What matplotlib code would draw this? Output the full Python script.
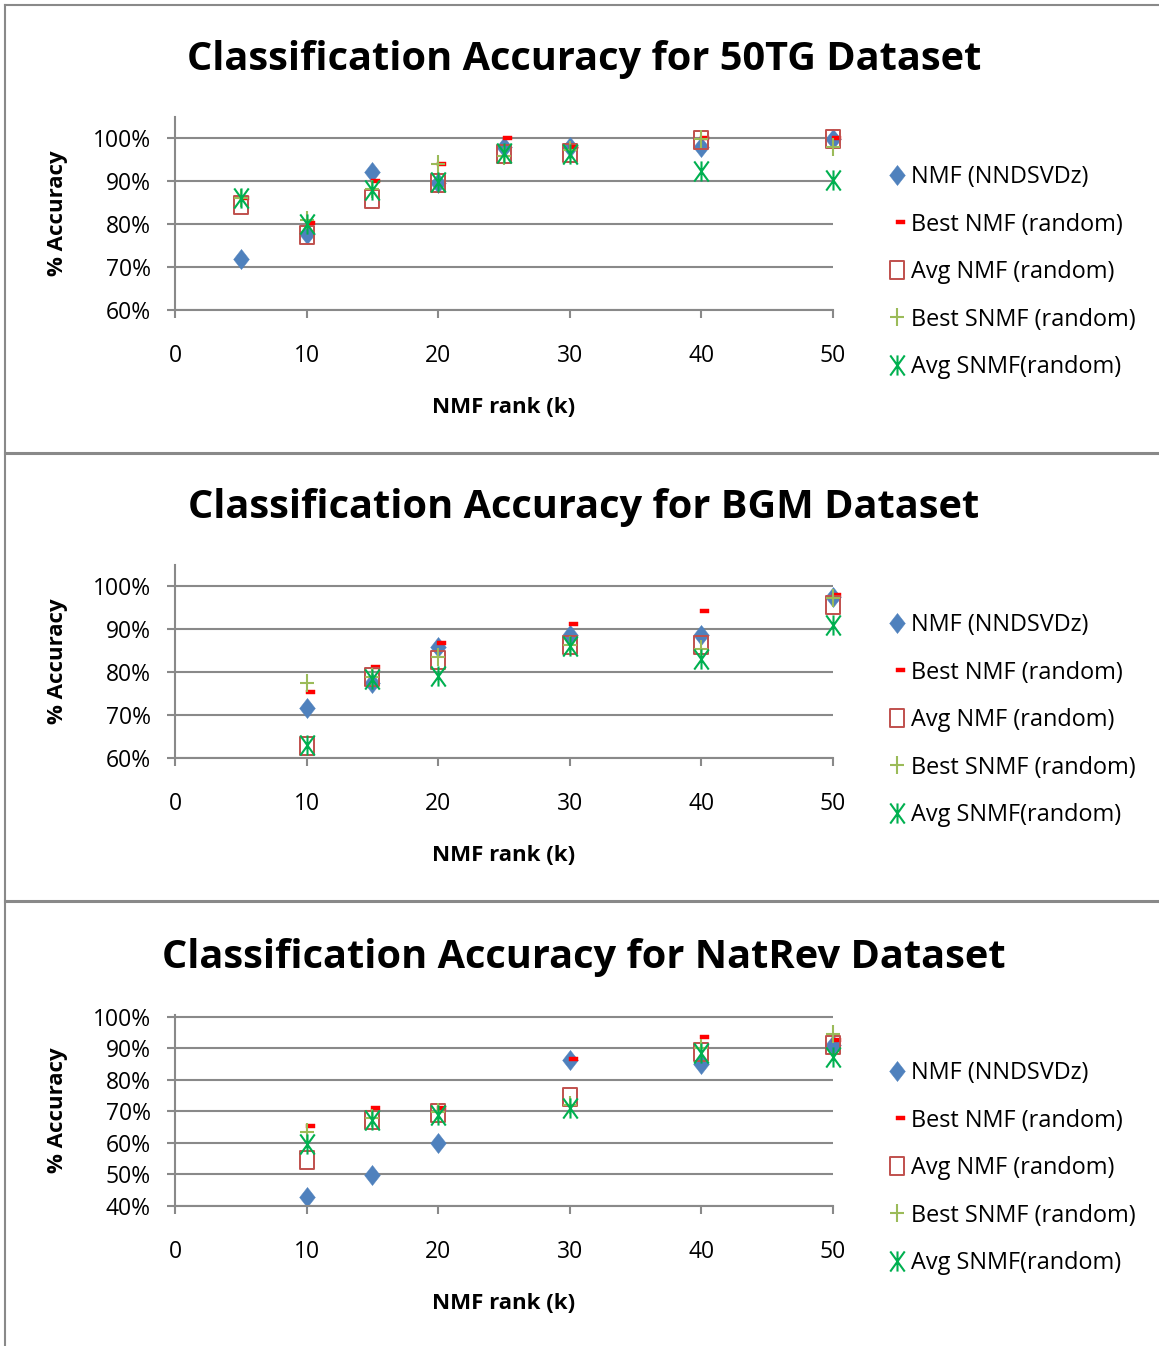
import matplotlib
matplotlib.use("Agg")
import matplotlib.pyplot as plt
from matplotlib.path import Path
from matplotlib.lines import Line2D

plt.rcParams['font.family'] = ['Open Sans', 'DejaVu Sans']

# ---------------- data ----------------
titles = ["Classification Accuracy for 50TG Dataset",
          "Classification Accuracy for BGM Dataset",
          "Classification Accuracy for NatRev Dataset"]
series_names = ["NMF (NNDSVDz)", "Best NMF (random)", "Avg NMF (random)",
                "Best SNMF (random)", "Avg SNMF(random)"]
x_label = "NMF rank (k)"
y_label = "% Accuracy"

k_50tg = [5, 10, 15, 20, 25, 30, 40, 50]
nmf_nndsvdz_50tg = [72.0, 77.8, 92.1, 89.7, 97.9, 97.9, 97.9, 99.9]
best_nmf_50tg = [86.0, 80.2, 90.0, 94.0, 100.0, 97.9, 100.0, 100.0]
avg_nmf_50tg = [84.4, 77.5, 85.9, 89.6, 96.4, 96.6, 99.6, 99.9]
best_snmf_50tg = [86.1, 81.0, 88.2, 94.0, 96.0, 97.3, 99.8, 97.9]
avg_snmf_50tg = [86.1, 80.0, 87.9, 89.9, 96.5, 96.3, 92.3, 90.3]

k_bgm = [10, 15, 20, 30, 40, 50]
nmf_nndsvdz_bgm = [71.6, 77.6, 85.9, 88.7, 88.7, 97.5]
best_nmf_bgm = [75.4, 81.3, 86.7, 91.2, 94.2, 97.9]
avg_nmf_bgm = [62.9, 79.0, 82.9, 86.4, 86.3, 95.7]
best_snmf_bgm = [77.4, 79.0, 83.6, 86.4, 85.4, 97.3]
avg_snmf_bgm = [63.0, 78.4, 79.2, 86.0, 83.0, 91.0]

k_natrev = [10, 15, 20, 30, 40, 50]
nmf_nndsvdz_natrev = [42.7, 49.9, 59.9, 86.4, 85.2, 91.0]
best_nmf_natrev = [65.5, 71.0, 71.0, 86.5, 93.7, 92.7]
avg_nmf_natrev = [54.6, 67.3, 69.4, 74.7, 89.0, 91.2]
best_snmf_natrev = [63.6, 68.0, 69.9, 72.0, 90.0, 94.5]
avg_snmf_natrev = [59.7, 67.3, 68.9, 71.0, 88.4, 87.3]

x_ticks = [0, 10, 20, 30, 40, 50]
y_ticks_top = [60, 70, 80, 90, 100]
y_ticks_bottom = [40, 50, 60, 70, 80, 90, 100]

panels = [
    (k_50tg, [nmf_nndsvdz_50tg, best_nmf_50tg, avg_nmf_50tg, best_snmf_50tg, avg_snmf_50tg], y_ticks_top, (60, 105)),
    (k_bgm, [nmf_nndsvdz_bgm, best_nmf_bgm, avg_nmf_bgm, best_snmf_bgm, avg_snmf_bgm], y_ticks_top, (60, 105)),
    (k_natrev, [nmf_nndsvdz_natrev, best_nmf_natrev, avg_nmf_natrev, best_snmf_natrev, avg_snmf_natrev], y_ticks_bottom, (40, 100.6)),
]

# ---------------- styles ----------------
W, H = 1159, 1346
DPI = 100
fig = plt.figure(figsize=(W / DPI, H / DPI), dpi=DPI)

GRAY = '#898989'

diamond = Path([(0, 1), (0.78, 0), (0, -1), (-0.78, 0), (0, 1)],
               [Path.MOVETO, Path.LINETO, Path.LINETO, Path.LINETO, Path.CLOSEPOLY])
dash = Path([(-0.1, -0.3), (1.0, -0.3), (1.0, 0.3), (-0.1, 0.3), (-0.1, -0.3)],
            [Path.MOVETO, Path.LINETO, Path.LINETO, Path.LINETO, Path.CLOSEPOLY])
square = Path([(-0.75, -1), (0.75, -1), (0.75, 1), (-0.75, 1), (-0.75, -1)],
              [Path.MOVETO, Path.LINETO, Path.LINETO, Path.LINETO, Path.CLOSEPOLY])
plus = Path([(-0.78, 0), (0.78, 0), (0, -1), (0, 1)],
            [Path.MOVETO, Path.LINETO, Path.MOVETO, Path.LINETO])
star = Path([(-0.72, -1), (0.72, 1), (-0.72, 1), (0.72, -1), (0, -1), (0, 1)],
            [Path.MOVETO, Path.LINETO, Path.MOVETO, Path.LINETO, Path.MOVETO, Path.LINETO])

styles = [
    dict(marker=diamond, markersize=14.5, markerfacecolor='#4F81BD', markeredgecolor='#4F81BD', markeredgewidth=0.3),
    dict(marker=dash, markersize=11.0, markerfacecolor='#FF0000', markeredgecolor='#FF0000', markeredgewidth=0.3),
    dict(marker=square, markersize=13.5, markerfacecolor='none', markeredgecolor='#C0504D', markeredgewidth=1.4),
    dict(marker=plus, markersize=13.5, markerfacecolor='none', markeredgecolor='#9BBB59', markeredgewidth=1.5),
    dict(marker=star, markersize=14.5, markerfacecolor='none', markeredgecolor='#00B050', markeredgewidth=1.5),
]

def px_axes(left, top, right, bottom):
    return fig.add_axes([left / W, 1 - bottom / H, (right - left) / W, (bottom - top) / H])

ax_tops = [117, 565, 1015]
ax_bottoms = [310, 758, 1206]
ax_left, ax_right = 175, 833
legend_rows = [174, 622, 1070]

for i, (ks, ys, yticks, ylim) in enumerate(panels):
    top, bottom = ax_tops[i], ax_bottoms[i]
    ax = px_axes(ax_left, top, ax_right, bottom)
    ax.set_xlim(0, 50)
    ax.set_ylim(*ylim)
    ax.set_xticks(x_ticks)
    ax.set_yticks(yticks)
    ax.set_yticklabels([f"{v}%" for v in yticks])
    ax.grid(axis='y', color=GRAY, linewidth=1.5)
    ax.set_axisbelow(True)
    for s in ['top', 'right']:
        ax.spines[s].set_visible(False)
    for s in ['left', 'bottom']:
        ax.spines[s].set_color(GRAY)
        ax.spines[s].set_linewidth(1.5)
    ax.tick_params(axis='both', colors=GRAY, labelcolor='black', width=1.5,
                   length=5.5, direction='out', labelsize=16.5)
    ax.tick_params(axis='x', pad=19)
    ax.tick_params(axis='y', pad=12)

    handles = []
    for vals, st, name in zip(ys, styles, series_names):
        h, = ax.plot(ks, vals, linestyle='none', label=name, clip_on=False, **st)
        handles.append(h)

    # axis labels
    ax.text(0.5, -(103) / (bottom - top), x_label, transform=ax.transAxes,
            ha='center', va='baseline', fontsize=16, fontweight='bold')
    fig.text(57 / W, 1 - ((top + bottom) / 2) / H, y_label, rotation=90,
             ha='center', va='center', fontsize=16, fontweight='bold')
    # title
    fig.text(584 / W, 1 - (top - 47) / H, titles[i], ha='center', va='baseline',
             fontsize=28.6, fontweight='bold')

    # legend
    center_y = legend_rows[i] + 2 * 48.3 + 1.5
    ax.legend(handles=handles, loc='center left',
              bbox_to_anchor=(888 / W, 1 - center_y / H), bbox_transform=fig.transFigure,
              frameon=False, fontsize=16.9, borderpad=0, handlelength=0.8,
              handletextpad=0.2, labelspacing=1.0, borderaxespad=0)

# panel borders
def fline(x0, y0, x1, y1, lw):
    fig.add_artist(Line2D([x0 / W, x1 / W], [1 - y0 / H, 1 - y1 / H],
                          transform=fig.transFigure, color=GRAY, linewidth=lw))

fline(5, 5, 5, H, 1.5)
fline(5, 5, W, 5, 1.5)
fline(5, 453, W, 453, 2.2)
fline(5, 901, W, 901, 2.2)

fig.savefig("out.png", dpi=DPI)
